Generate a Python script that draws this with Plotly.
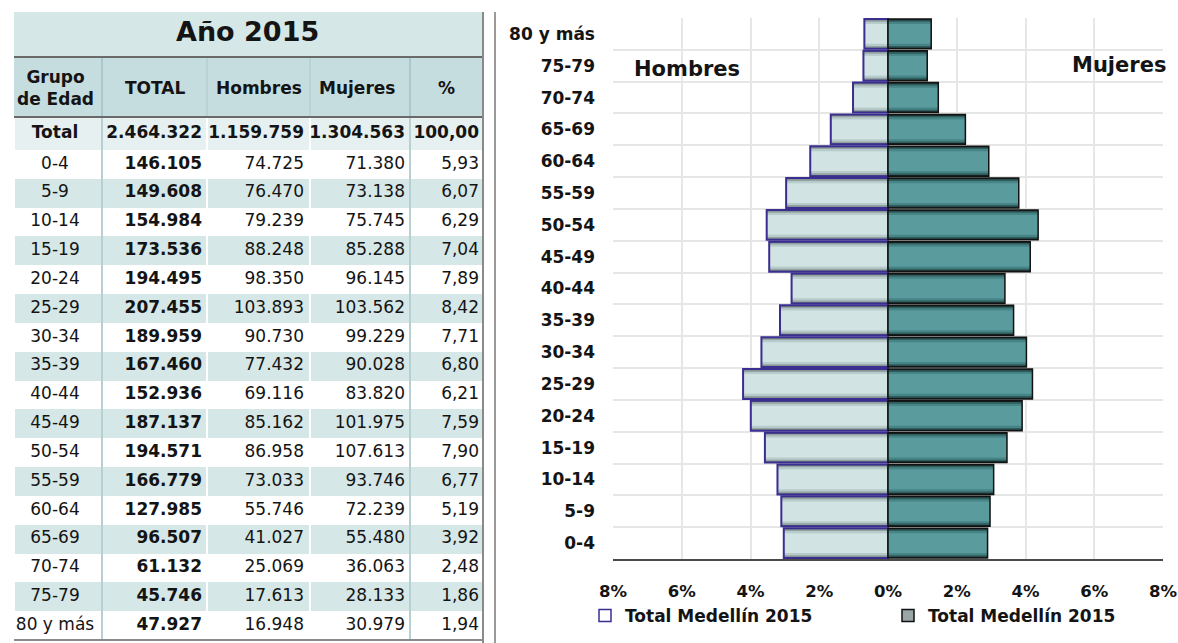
import plotly.graph_objects as go

# ---------------- data ----------------
grupos = ['0-4', '5-9', '10-14', '15-19', '20-24', '25-29', '30-34', '35-39',
          '40-44', '45-49', '50-54', '55-59', '60-64', '65-69', '70-74', '75-79', '80 y más']
total_grupo = [146105, 149608, 154984, 173536, 194495, 207455, 189959, 167460,
               152936, 187137, 194571, 166779, 127985, 96507, 61132, 45746, 47927]
hombres = [74725, 76470, 79239, 88248, 98350, 103893, 90730, 77432,
           69116, 85162, 86958, 73033, 55746, 41027, 25069, 17613, 16948]
mujeres = [71380, 73138, 75745, 85288, 96145, 103562, 99229, 90028,
           83820, 101975, 107613, 93746, 72239, 55480, 36063, 28133, 30979]
porcentaje = [5.93, 6.07, 6.29, 7.04, 7.89, 8.42, 7.71, 6.80,
              6.21, 7.59, 7.90, 6.77, 5.19, 3.92, 2.48, 1.86, 1.94]
total_pob = 2464322
total_hombres = 1159759
total_mujeres = 1304563
total_pct = 100.00

x_ticks = [-8, -6, -4, -2, 0, 2, 4, 6, 8]
x_ticktext = ['8%', '6%', '4%', '2%', '0%', '2%', '4%', '6%', '8%']
titulo_tabla = 'Año 2015'
col_headers = ['Grupo<br>de Edad', 'TOTAL', 'Hombres', 'Mujeres', '%']
serie_nombre = 'Total Medellín 2015'

# ---------------- geometry helpers ----------------
FW, FH = 1178, 643
FONT = 'DejaVu Sans'
INK = '#141414'


def px(x):
    return x / FW


def py(y):
    return 1 - y / FH


def fmt_int(v):
    return f"{v:,}".replace(',', '.')


def fmt_pct(v):
    return f"{v:.2f}".replace('.', ',')


hombres_pct = [-h / total_pob * 100 for h in hombres]
mujeres_pct = [m / total_pob * 100 for m in mujeres]

fig = go.Figure()

# ---------------- table (drawn on its own pixel-unit axes) ----------------
T_LEFT, T_RIGHT, T_TOP, T_BOTTOM = 14, 483, 12, 643
col_edges = [14, 102, 207, 310, 410, 483]
row_h = (640 - 150) / 17
row_edges = [117, 150] + [150 + row_h * k for k in range(1, 18)]
row_centers = [(row_edges[i] + row_edges[i + 1]) / 2 for i in range(18)]

fill_codes = [[2] * 5] + [[(i % 2)] * 5 for i in range(len(grupos))]
fig.add_trace(go.Heatmap(
    x=col_edges, y=row_edges, z=fill_codes,
    xaxis='x2', yaxis='y2',
    zmin=0, zmax=2,
    colorscale=[[0, '#ffffff'], [0.5, '#d6e7e7'], [1, '#e6f0f1']],
    showscale=False, xgap=2, ygap=0, hoverinfo='skip',
))

col0 = ['<b>Total</b>'] + grupos
col1 = ['<b>' + fmt_int(total_pob) + '</b>'] + ['<b>' + fmt_int(v) + '</b>' for v in total_grupo]
col2 = ['<b>' + fmt_int(total_hombres) + '</b>'] + [fmt_int(v) for v in hombres]
col3 = ['<b>' + fmt_int(total_mujeres) + '</b>'] + [fmt_int(v) for v in mujeres]
col4 = ['<b>' + fmt_pct(total_pct) + '</b>'] + [fmt_pct(v) for v in porcentaje]

text_cols = [(col0, 55, 'middle center'), (col1, 202, 'middle left'), (col2, 304, 'middle left'),
             (col3, 405, 'middle left'), (col4, 479, 'middle left')]
for vals, xpos, tpos in text_cols:
    fig.add_trace(go.Scatter(
        x=[xpos] * len(vals), y=row_centers, text=vals, mode='text',
        textposition=tpos, xaxis='x2', yaxis='y2', cliponaxis=False,
        textfont=dict(family=FONT, size=17, color=INK),
        showlegend=False, hoverinfo='skip',
    ))

# ---------------- pyramid bars ----------------
men_layers = [(0.94, '#6b7676'), (0.86, '#93a2a2'), (0.76, '#b8cbcb'), (0.62, '#d1e3e3')]
women_layers = [(0.94, '#182b2c'), (0.86, '#2f5d5e'), (0.76, '#468486'), (0.62, '#5a9c9e')]

for w, c in men_layers:
    fig.add_trace(go.Bar(x=hombres_pct, y=grupos, orientation='h', width=w,
                         marker=dict(color=c, line=dict(width=0)),
                         showlegend=False, hoverinfo='skip'))
fig.add_trace(go.Bar(x=hombres_pct, y=grupos, orientation='h', width=0.94,
                     marker=dict(color='rgba(0,0,0,0)', line=dict(color='#3a2e90', width=2)),
                     showlegend=False, name=serie_nombre))

for w, c in women_layers:
    fig.add_trace(go.Bar(x=mujeres_pct, y=grupos, orientation='h', width=w,
                         marker=dict(color=c, line=dict(width=0)),
                         showlegend=False, hoverinfo='skip'))
fig.add_trace(go.Bar(x=mujeres_pct, y=grupos, orientation='h', width=0.94,
                     marker=dict(color='rgba(0,0,0,0)', line=dict(color='#121212', width=1.5)),
                     showlegend=False, name=serie_nombre))

# legend entries
fig.add_trace(go.Bar(x=[None], y=[None], orientation='h', name=serie_nombre, legend='legend',
                     marker=dict(color='#ffffff', line=dict(color='#3a2e90', width=1.5)),
                     showlegend=True, hoverinfo='skip'))
fig.add_trace(go.Bar(x=[None], y=[None], orientation='h', name=serie_nombre, legend='legend2',
                     marker=dict(color='#9aa6a6', line=dict(color='#121212', width=1.5)),
                     showlegend=True, hoverinfo='skip'))

legend_font = dict(family=FONT, size=17, color=INK, weight='bold')
fig.update_layout(
    width=FW, height=FH, autosize=False,
    margin=dict(l=0, r=0, t=0, b=0, autoexpand=False),
    paper_bgcolor='white', plot_bgcolor='white',
    barmode='overlay',
    font=dict(family=FONT, color=INK),
    xaxis=dict(
        domain=[px(613), px(1163)],
        range=[-8, 8],
        tickvals=x_ticks, ticktext=x_ticktext,
        showgrid=True, gridcolor='#e6e6e6', gridwidth=1.5,
        zeroline=False,
        showline=True, linecolor='#4a4a4a', linewidth=2,
        ticks='', ticklabelstandoff=16,
        tickfont=dict(family=FONT, size=16.5, color=INK, weight='bold'),
        fixedrange=True,
    ),
    yaxis=dict(
        domain=[py(559), py(18)],
        type='category',
        categoryorder='array', categoryarray=grupos,
        tickson='boundaries',
        showgrid=True, gridcolor='#e6e6e6', gridwidth=1.5,
        zeroline=False, showline=False,
        ticks='', ticklabelstandoff=17,
        tickfont=dict(family=FONT, size=17, color=INK, weight='bold'),
        fixedrange=True,
    ),
    xaxis2=dict(domain=[px(T_LEFT), px(T_RIGHT)], range=[T_LEFT, T_RIGHT], anchor='y2',
                visible=False, fixedrange=True),
    yaxis2=dict(domain=[py(T_BOTTOM), py(T_TOP)], range=[T_BOTTOM, T_TOP], anchor='x2',
                visible=False, fixedrange=True),
    legend=dict(
        orientation='h', x=px(585), xanchor='left', y=py(616), yanchor='middle',
        font=legend_font, bgcolor='rgba(0,0,0,0)', itemwidth=30,
    ),
    legend2=dict(
        orientation='h', x=px(888), xanchor='left', y=py(616), yanchor='middle',
        font=legend_font, bgcolor='rgba(0,0,0,0)', itemwidth=30,
    ),
)

# ---------------- table decorations ----------------
def tline(x0, y0, x1, y1, color, width):
    return dict(type='line', xref='x2', yref='y2', x0=x0, y0=y0, x1=x1, y1=y1,
                line=dict(color=color, width=width), layer='above')


shapes = [
    dict(type='rect', xref='x2', yref='y2', x0=T_LEFT, x1=T_RIGHT, y0=T_TOP, y1=57,
         fillcolor='#d6e7e8', line=dict(width=0), layer='below'),
    dict(type='rect', xref='x2', yref='y2', x0=T_LEFT, x1=T_RIGHT, y0=57, y1=117,
         fillcolor='#c6dde0', line=dict(width=0), layer='below'),
    tline(207, 57, 207, 117, '#b3cfd2', 1.5),
    tline(310, 57, 310, 117, '#b3cfd2', 1.5),
    tline(102, 57, 102, 640, '#9fc0c4', 1.5),
    tline(410, 57, 410, 640, '#9fc0c4', 1.5),
    tline(T_LEFT, 57, T_RIGHT, 57, '#6a6a6a', 2),
    tline(T_LEFT, 117, T_RIGHT, 117, '#6a6a6a', 2),
    tline(T_LEFT, 640, T_RIGHT, 640, '#8a8a8a', 2),
    dict(type='line', xref='paper', yref='paper', x0=px(483), x1=px(483), y0=0, y1=py(12),
         line=dict(color='#8a8a8a', width=2)),
    dict(type='line', xref='paper', yref='paper', x0=px(495), x1=px(495), y0=0, y1=py(12),
         line=dict(color='#9a9a9a', width=2)),
]
fig.update_layout(shapes=shapes)

header_x = [55, 155, 259, 357, 446]
for htxt, hx in zip(col_headers, header_x):
    fig.add_annotation(xref='x2', yref='y2', x=hx, y=88, text='<b>' + htxt + '</b>',
                       showarrow=False, xanchor='center', yanchor='middle',
                       font=dict(family=FONT, size=17, color=INK))

fig.add_annotation(xref='paper', yref='paper', x=px(247), y=py(32), text='<b>' + titulo_tabla + '</b>',
                   showarrow=False, xanchor='center', yanchor='middle',
                   font=dict(family=FONT, size=27, color=INK))
fig.add_annotation(xref='paper', yref='paper', x=px(632), y=py(69), text='<b>Hombres</b>',
                   showarrow=False, xanchor='left', yanchor='middle',
                   font=dict(family=FONT, size=21, color=INK))
fig.add_annotation(xref='paper', yref='paper', x=px(1168), y=py(65), text='<b>Mujeres</b>',
                   showarrow=False, xanchor='right', yanchor='middle',
                   font=dict(family=FONT, size=21, color=INK))

# remove the default page margin so the 1178x643 figure fills the window exactly
page_fix = ("document.documentElement.style.overflow='hidden';"
            "document.body.style.margin='0';document.body.style.overflow='hidden';")
fig.write_html('out.html', post_script=page_fix, config={'displayModeBar': False})
